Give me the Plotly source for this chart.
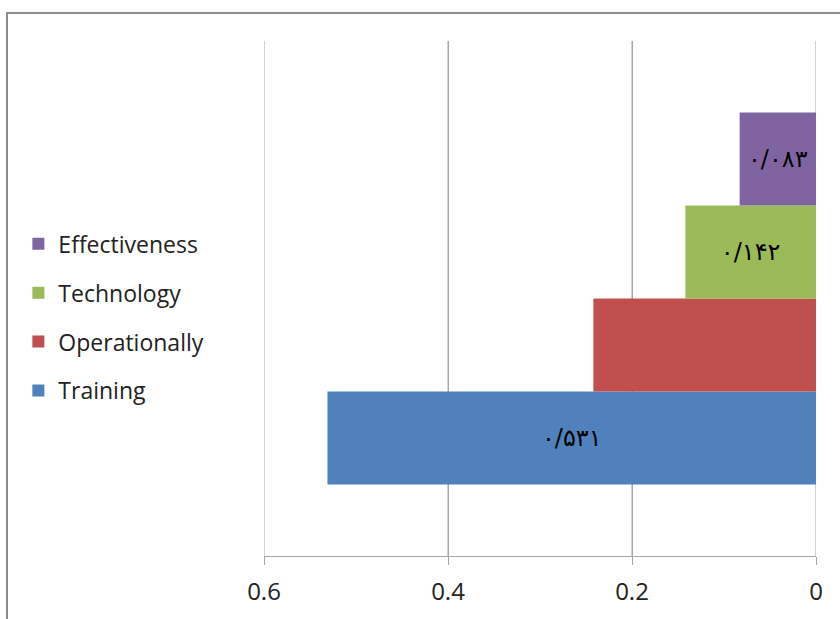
import plotly.graph_objects as go

# Factor weights, one bar per factor
factors = ["Training", "Operationally", "Technology", "Effectiveness"]
weights = [0.531, 0.242, 0.142, 0.083]
colors = ["#4F81BD", "#C0504D", "#9BBB59", "#8064A2"]
labelled = [True, False, True, True]

tick_vals = [0, 0.2, 0.4, 0.6]
tick_text = ["0", "0.2", "0.4", "0.6"]

PERSIAN = str.maketrans("0123456789.", "۰۱۲۳۴۵۶۷۸۹/")


def persian_label(v):
    return f"{v:.3f}".translate(PERSIAN)


fig = go.Figure()
n = len(factors)
for i, (name, w, c, show) in enumerate(zip(factors, weights, colors, labelled)):
    fig.add_trace(go.Bar(
        y=["g"], x=[w], name=name, orientation="h",
        marker=dict(color=c, line=dict(width=0)),
        text=[persian_label(w)] if show else None,
        textposition="inside", insidetextanchor="middle",
        textfont=dict(family="DejaVu Sans", size=24, color="black"),
        legendgroup=name, legendrank=n - i,
    ))

grid_color = "#A6A6A6"
# vertical gridlines at every tick, including the two range ends
grid_lines = [dict(type="line", xref="x", yref="paper", x0=v, x1=v, y0=0, y1=1,
                   line=dict(color=grid_color, width=1), layer="below")
              for v in tick_vals]

fig.update_layout(
    width=840, height=619,
    margin=dict(l=264, r=24, t=41, b=63),
    paper_bgcolor="white", plot_bgcolor="white",
    barmode="group", bargap=0.278, bargroupgap=0,
    font=dict(family="Open Sans", size=20, color="#222222"),
    legend=dict(
        x=-0.445, y=0.648, xanchor="left", yanchor="top",
        traceorder="grouped", tracegroupgap=16,
        font=dict(size=23, color="#222222"),
        itemwidth=30,
    ),
    xaxis=dict(
        range=[0.6, 0], tickvals=tick_vals, ticktext=tick_text,
        showgrid=True, gridcolor=grid_color, gridwidth=1,
        showline=True, linecolor=grid_color, linewidth=1,
        ticks="outside", ticklen=8, tickcolor=grid_color,
        tickfont=dict(size=24, color="#222222"),
        ticklabelstandoff=6, zeroline=False,
    ),
    yaxis=dict(range=[-0.5, 0.5], showticklabels=False, showgrid=False,
               zeroline=False, showline=False, ticks=""),
    shapes=grid_lines + [dict(
        type="rect", xref="paper", yref="paper",
        x0=-0.4656, x1=1.2, y0=-0.2, y1=1.0544,
        line=dict(color="#8C8C8C", width=2), fillcolor="rgba(0,0,0,0)",
        layer="below",
    )],
)

fig.write_html("out.html")
